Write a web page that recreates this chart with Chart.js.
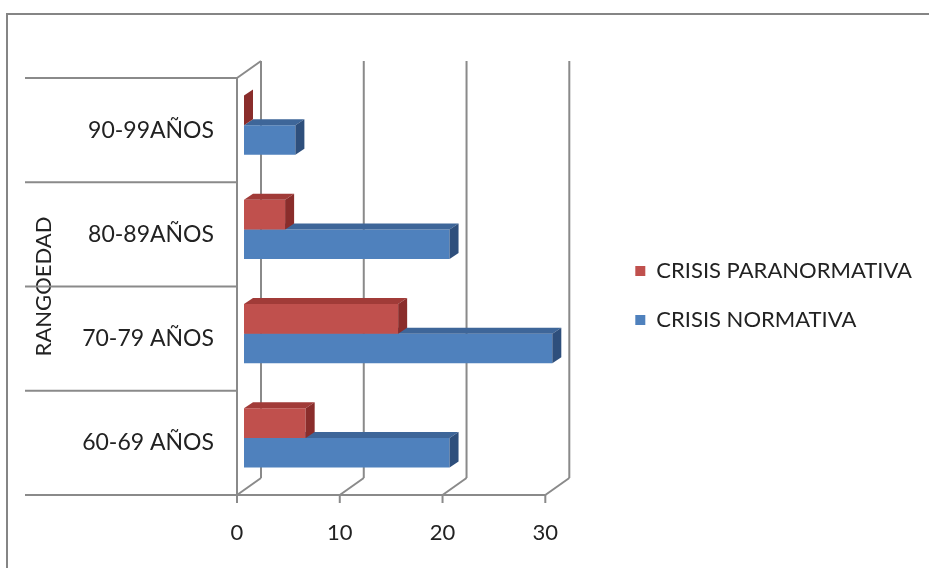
<!DOCTYPE html>
<html>
<head>
<meta charset="utf-8">
<title>Crisis por rango de edad</title>
<style>
  html, body { margin: 0; padding: 0; background: #ffffff; overflow: hidden; }
  canvas { display: block; }
</style>
<script src="https://cdn.jsdelivr.net/npm/chart.js@4.4.1/dist/chart.umd.min.js"></script>
</head>
<body>
<canvas id="chart" width="929" height="568"></canvas>
<script>
// Age ranges, listed from the top row of the chart down to the bottom row
const categories = ['90-99AÑOS', '80-89AÑOS', '70-79 AÑOS', '60-69 AÑOS'];
const crisisParanormativa = [0, 4, 15, 6];
const crisisNormativa = [5, 20, 30, 20];
const seriesNames = ['CRISIS PARANORMATIVA', 'CRISIS NORMATIVA'];
const axisTitle = 'RANGOEDAD';
const valueTicks = [0, 10, 20, 30];

// Look of the pseudo-3D box
const FONT_FAMILY = 'Lato, "Open Sans", sans-serif';
const FONT_SIZE = 22;
const CATEGORY_FONT_SIZE = 23;
const TEXT = '#222222';
const RULE = '#8a8a8a';
const FRONT = ['#C0504D', '#4F81BD'];
const SHADE = [
  { top: '#A13B38', side: '#8A2D2B' },
  { top: '#3E6699', side: '#2E4F7C' }
];
const WALL = { dx: 24, dy: 17 };      // depth of the back wall
const BAR_SHIFT = { dx: 7, dy: 5 };   // bars sit a little behind the front plane
const BAR_DEPTH = { dx: 9, dy: 6 };   // thickness of each bar
const RULE_START_X = 25;              // left end of the category rules

// Plot box placement
const PLOT_RIGHT = 545;
const LEGEND_GAP = 63;
const LEGEND_PAD = 27;
const LEGEND_BOX = 10;

const box3d = {
  id: 'box3d',
  beforeDraw(chart) {
    const ctx = chart.ctx;
    ctx.save();
    ctx.fillStyle = '#ffffff';
    ctx.fillRect(0, 0, chart.width, chart.height);
    ctx.strokeStyle = '#858585';
    ctx.lineWidth = 2;
    ctx.beginPath();
    ctx.moveTo(7, chart.height);
    ctx.lineTo(7, 14);
    ctx.lineTo(chart.width, 14);
    ctx.stroke();
    ctx.restore();
  },
  beforeDatasetsDraw(chart) {
    const { ctx, chartArea: a, scales: { x, y } } = chart;
    ctx.save();
    ctx.strokeStyle = RULE;
    ctx.lineWidth = 2;
    const line = (x1, y1, x2, y2) => {
      ctx.beginPath(); ctx.moveTo(x1, y1); ctx.lineTo(x2, y2); ctx.stroke();
    };
    // back wall gridlines, floor diagonals and tick marks
    x.ticks.forEach(t => {
      const px = x.getPixelForValue(t.value);
      line(px + WALL.dx, a.top - WALL.dy, px + WALL.dx, a.bottom - WALL.dy);
      line(px, a.bottom, px + WALL.dx, a.bottom - WALL.dy);
      line(px, a.bottom, px, a.bottom + 8);
    });
    // side wall edge
    line(a.left, a.top, a.left, a.bottom);
    line(a.left, a.top, a.left + WALL.dx, a.top - WALL.dy);
    // category rules
    const n = y.ticks.length;
    const band = (a.bottom - a.top) / n;
    for (let i = 0; i < n; i++) {
      const py = y.getPixelForValue(i) - band / 2;
      line(RULE_START_X, py, a.left, py);
    }
    line(RULE_START_X, a.bottom, a.right, a.bottom);
    ctx.restore();

    ctx.save();
    ctx.translate(BAR_SHIFT.dx, -BAR_SHIFT.dy);
  },
  afterDatasetDraw(chart, args) {
    const ctx = chart.ctx;
    const shade = SHADE[args.index];
    args.meta.data.forEach(bar => {
      const { x, y, base, height } = bar.getProps(['x', 'y', 'base', 'height'], true);
      const top = y - height / 2;
      const bottom = y + height / 2;
      const left = Math.min(x, base);
      const right = Math.max(x, base);
      ctx.fillStyle = shade.top;
      ctx.beginPath();
      ctx.moveTo(left, top);
      ctx.lineTo(right, top);
      ctx.lineTo(right + BAR_DEPTH.dx, top - BAR_DEPTH.dy);
      ctx.lineTo(left + BAR_DEPTH.dx, top - BAR_DEPTH.dy);
      ctx.closePath();
      ctx.fill();
      ctx.fillStyle = shade.side;
      ctx.beginPath();
      ctx.moveTo(right, top);
      ctx.lineTo(right + BAR_DEPTH.dx, top - BAR_DEPTH.dy);
      ctx.lineTo(right + BAR_DEPTH.dx, bottom - BAR_DEPTH.dy);
      ctx.lineTo(right, bottom);
      ctx.closePath();
      ctx.fill();
    });
  },
  afterDatasetsDraw(chart) {
    chart.ctx.restore();
  }
};

function draw() {
  const canvas = document.getElementById('chart');
  Chart.defaults.font.family = FONT_FAMILY;
  Chart.defaults.font.size = FONT_SIZE;
  Chart.defaults.color = TEXT;

  // width the legend will claim, so the plot keeps its right edge
  const mctx = canvas.getContext('2d');
  mctx.font = `${FONT_SIZE}px ${FONT_FAMILY}`;
  const textW = Math.max(...seriesNames.map(s => mctx.measureText(s).width));
  const legendW = Math.ceil(LEGEND_PAD + LEGEND_BOX + FONT_SIZE / 2 + textW + 10);
  const padRight = Math.max(0, canvas.width - PLOT_RIGHT - LEGEND_GAP - legendW);

  new Chart(canvas, {
    type: 'bar',
    data: {
      labels: categories,
      datasets: [
        {
          label: seriesNames[0],
          data: crisisParanormativa,
          backgroundColor: FRONT[0],
          borderWidth: 0,
          clip: false,
          xAxisID: 'x',
          yAxisID: 'y'
        },
        {
          label: seriesNames[1],
          data: crisisNormativa,
          backgroundColor: FRONT[1],
          borderWidth: 0,
          clip: false,
          xAxisID: 'x',
          yAxisID: 'y'
        }
      ]
    },
    options: {
      indexAxis: 'y',
      responsive: false,
      animation: false,
      events: [],
      categoryPercentage: 0.57,
      barPercentage: 1,
      layout: { padding: { left: 27, top: 23, right: padRight, bottom: 0 } },
      scales: {
        x: {
          type: 'linear',
          min: 0,
          max: 30,
          afterBuildTicks(scale) { scale.ticks = valueTicks.map(v => ({ value: v })); },
          ticks: { padding: 25, color: TEXT, font: { size: FONT_SIZE } },
          grid: { display: false, drawTicks: false },
          border: { display: false },
          afterFit(scale) { scale.height = 73; }
        },
        y: {
          type: 'category',
          ticks: { padding: 23, color: TEXT, font: { size: CATEGORY_FONT_SIZE } },
          grid: { display: false, drawTicks: false },
          border: { display: false },
          title: { display: true, text: axisTitle, color: TEXT, font: { size: FONT_SIZE }, padding: { top: 4, bottom: 4 } },
          afterFit(scale) { scale.width = 210; }
        },
        topGap: {
          type: 'linear',
          axis: 'x',
          position: 'top',
          display: true,
          ticks: { display: false },
          grid: { display: false, drawTicks: false },
          border: { display: false },
          afterFit(scale) { scale.height = 55; }
        },
        legendGap: {
          type: 'linear',
          axis: 'y',
          position: 'right',
          display: true,
          ticks: { display: false },
          grid: { display: false, drawTicks: false },
          border: { display: false },
          afterFit(scale) { scale.width = LEGEND_GAP; }
        }
      },
      plugins: {
        legend: {
          position: 'right',
          maxWidth: legendW,
          labels: {
            boxWidth: LEGEND_BOX,
            boxHeight: LEGEND_BOX,
            padding: LEGEND_PAD,
            color: TEXT,
            font: { size: FONT_SIZE }
          }
        },
        tooltip: { enabled: false }
      }
    },
    plugins: [box3d]
  });
}

if (document.fonts && document.fonts.load) {
  document.fonts.load(`${FONT_SIZE}px Lato`).then(draw, draw);
} else {
  draw();
}
</script>
</body>
</html>
